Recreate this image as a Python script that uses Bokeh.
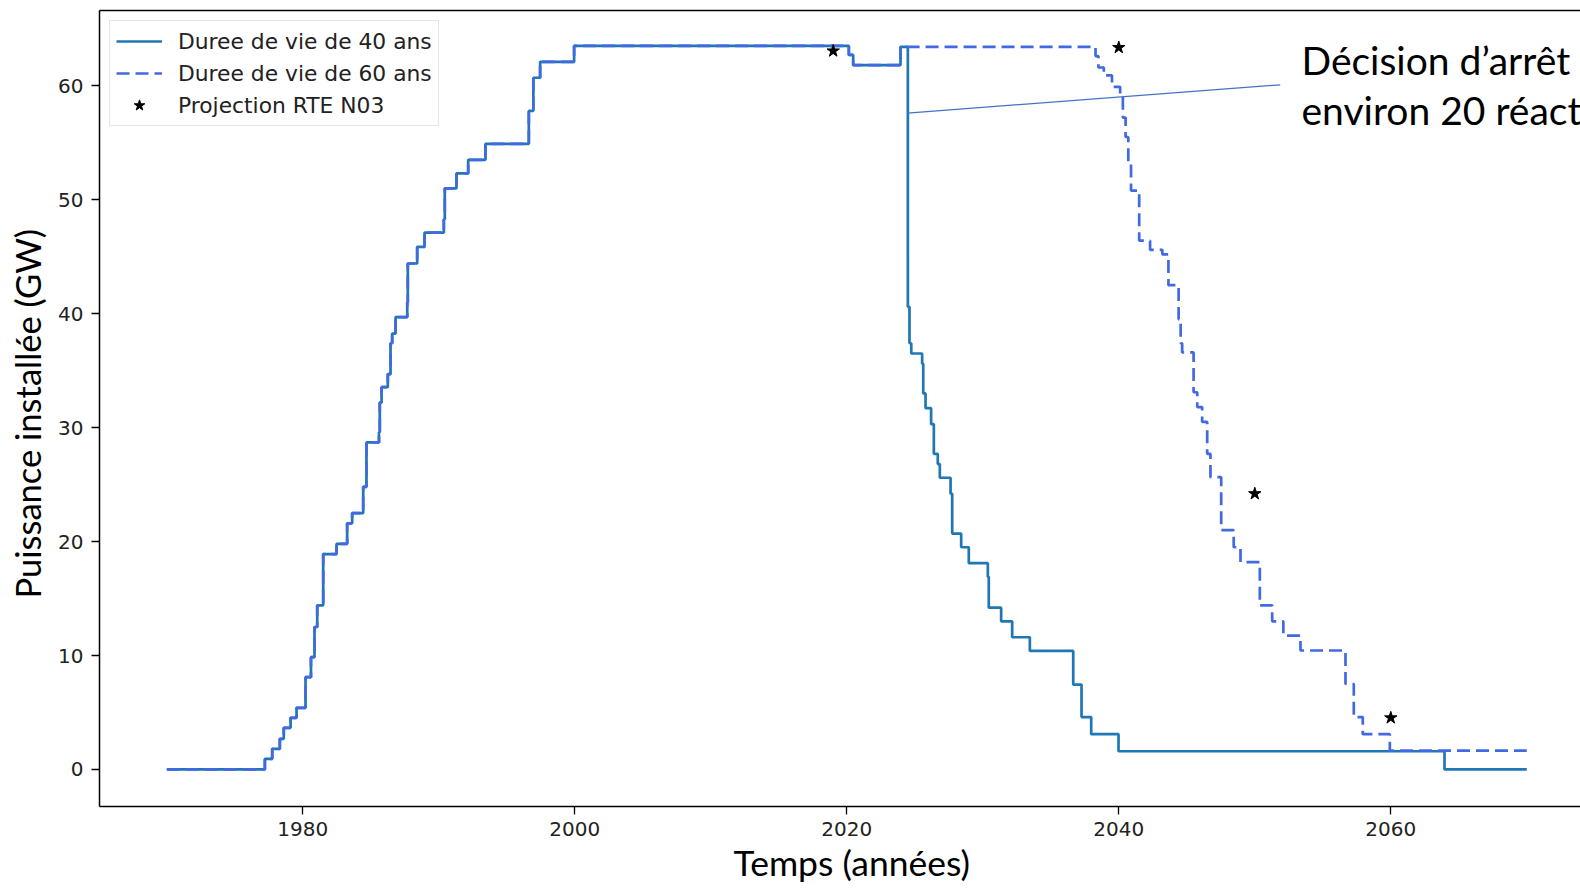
from bokeh.plotting import figure
from bokeh.models import (Range1d, LinearAxis, Label, FixedTicker, Legend,
                          LegendItem, Title)
from bokeh.embed import file_html
from bokeh.resources import INLINE

# ---------------- data ----------------
# common history 1970-2024 (change years, installed GW after the change)
years_hist = [1970.0, 1977.21, 1977.75, 1978.31, 1978.6, 1979.1, 1979.54,
              1980.2, 1980.6, 1980.86, 1981.06, 1981.5, 1982.48, 1983.26,
              1983.63, 1984.44, 1984.68, 1985.6, 1985.66, 1985.79, 1986.25,
              1986.45, 1986.57, 1986.82, 1987.68, 1987.72, 1988.41, 1988.95,
              1990.37, 1990.44, 1991.3, 1992.16, 1993.43, 1996.62, 1996.95,
              1997.45, 1999.95, 2020.15, 2020.47, 2023.95]
gw_hist = [0.0, 0.93, 1.81, 2.69, 3.65, 4.53, 5.41,
           8.1, 9.85, 12.5, 14.4, 18.9, 19.8, 21.6,
           22.5, 24.8, 28.7, 29.6, 32.2, 33.55, 34.7,
           37.4, 38.25, 39.7, 41.0, 44.4, 45.85, 47.1,
           48.3, 51.0, 52.3, 53.5, 54.9, 57.8, 60.7,
           62.1, 63.5, 62.7, 61.8, 63.4]

# 40-year lifetime after 2024
years_40_after = [2024.49, 2024.61, 2024.74, 2025.54, 2025.62, 2025.79,
                  2026.2, 2026.4, 2026.69, 2026.84, 2027.63, 2027.75,
                  2028.41, 2028.97, 2030.37, 2030.44, 2031.35, 2032.16,
                  2033.46, 2036.65, 2037.26, 2037.97, 2039.98, 2063.95,
                  2070.0]
gw_40_after = [40.6, 37.4, 36.5, 35.6, 33.0, 31.7,
               30.3, 27.7, 26.8, 25.6, 24.2, 20.7,
               19.5, 18.1, 16.9, 14.2, 13.0, 11.6,
               10.4, 7.45, 4.6, 3.1, 1.6, 0.0,
               0.0]

# 60-year lifetime after 2024
years_60_after = [2038.29, 2038.5, 2038.9, 2039.5, 2040.1, 2040.3, 2040.5,
                  2040.7, 2040.9, 2041.5, 2042.3, 2043.2, 2043.65, 2044.4,
                  2044.55, 2044.66, 2045.5, 2045.77, 2046.13, 2046.5,
                  2046.74, 2047.53, 2048.45, 2048.95, 2050.37, 2051.28,
                  2052.1, 2053.36, 2056.67, 2057.28, 2057.94, 2059.93,
                  2070.0]
gw_60_after = [62.6, 61.6, 60.9, 59.9, 59.0, 57.2, 55.5,
               53.2, 50.8, 46.4, 45.6, 45.2, 42.5, 39.5,
               37.4, 36.6, 33.1, 31.8, 30.5, 27.7,
               25.65, 21.0, 19.5, 18.2, 14.4, 13.0,
               11.75, 10.44, 7.5, 4.6, 3.1, 1.66,
               1.66]

rte_years = [2019, 2040, 2050, 2060]
rte_gw = [63.05, 63.35, 24.2, 4.53]

x_ticks = [1980, 2000, 2020, 2040, 2060]
y_ticks = [0, 10, 20, 30, 40, 50, 60]

series_labels = ["Duree de vie de 40 ans", "Duree de vie de 60 ans",
                 "Projection RTE N03"]
x_title = "Temps (années)"
y_title = "Puissance installée (GW)"
note_lines = ["Décision d\u2019arrêt", "environ 20 réact"]

# annotation pointer (slide callout line), data coordinates
pointer_x = [2024.46, 2051.87]
pointer_y = [57.6, 60.08]

years_40 = years_hist + years_40_after
gw_40 = gw_hist + gw_40_after
years_60 = years_hist + years_60_after
gw_60 = gw_hist + gw_60_after

# ---------------- figure ----------------
p = figure(width=1580, height=889, output_backend="svg", toolbar_location=None,
           x_range=Range1d(1965.05, 2073.95), y_range=Range1d(-3.25, 66.6),
           min_border_left=99, min_border_right=0, min_border_top=10,
           min_border_bottom=83)
p.grid.visible = False
p.outline_line_color = None
p.background_fill_color = "white"
p.border_fill_color = "white"

for ax in (p.xaxis[0], p.yaxis[0]):
    ax.axis_line_color = "black"
    ax.axis_line_width = 1.5
    ax.major_tick_out = 8
    ax.major_tick_in = 0
    ax.minor_tick_out = 0
    ax.minor_tick_in = 0
    ax.major_tick_line_width = 1.3
    ax.major_tick_line_color = "black"
    ax.major_label_text_font = "DejaVu Sans"
    ax.major_label_text_font_size = "20px"
    ax.major_label_text_color = "#222222"

p.xaxis.ticker = FixedTicker(ticks=x_ticks)
p.yaxis.ticker = FixedTicker(ticks=y_ticks)
p.xaxis.major_label_standoff = 7
p.yaxis.major_label_standoff = 8

top = LinearAxis(axis_line_color="black", axis_line_width=1.5,
                 major_tick_out=0, major_tick_in=0, minor_tick_out=0,
                 minor_tick_in=0, major_label_text_font_size="0px",
                 major_label_standoff=0, ticker=FixedTicker(ticks=[]))
p.add_layout(top, "above")

# axis titles (slide text), placed as titles outside the axes
p.add_layout(Title(text=x_title, align="left", offset=634, standoff=5,
                   vertical_align="top", text_font="Lato",
                   text_font_size="35.5px", text_font_style="normal",
                   text_color="black"), "below")
p.add_layout(Title(text=y_title, align="left", offset=208, standoff=12,
                   vertical_align="top", text_font="Lato",
                   text_font_size="34.5px", text_font_style="normal",
                   text_color="black"), "left")

r40 = p.step(years_40, gw_40, mode="after", line_color="#1f77b4",
             line_width=2.7)
r60 = p.step(years_60, gw_60, mode="after", line_color="#4169e1",
             line_width=2.7, line_dash="13 6")
rs = p.scatter(rte_years, rte_gw, marker="star", size=13,
               fill_color="black", line_color="black")

p.segment(x0=[pointer_x[0]], y0=[pointer_y[0]], x1=[pointer_x[1]],
          y1=[pointer_y[1]], line_color="#4472c4", line_width=1.2)

legend = Legend(items=[LegendItem(label=series_labels[0], renderers=[r40]),
                       LegendItem(label=series_labels[1], renderers=[r60]),
                       LegendItem(label=series_labels[2], renderers=[rs])],
                location="top_left", margin=10, padding=6, spacing=4,
                glyph_width=46, glyph_height=28, label_height=28,
                label_standoff=16, label_text_font="DejaVu Sans",
                label_text_font_size="21.8px", label_text_color="#222222",
                border_line_color="#cccccc", border_line_width=1.2,
                background_fill_color="white", background_fill_alpha=0.85)
p.add_layout(legend)

# callout text (inside the plot frame)
p.add_layout(Label(x=1202, y=747, x_units="screen", y_units="screen",
                   text=note_lines[0], text_font="Lato",
                   text_font_size="39px", text_align="left",
                   text_baseline="alphabetic", text_color="black"))
p.add_layout(Label(x=1202, y=697, x_units="screen", y_units="screen",
                   text=note_lines[1], text_font="Lato",
                   text_font_size="39px", text_align="left",
                   text_baseline="alphabetic", text_color="black"))

open("out.html", "w").write(file_html(p, INLINE))
